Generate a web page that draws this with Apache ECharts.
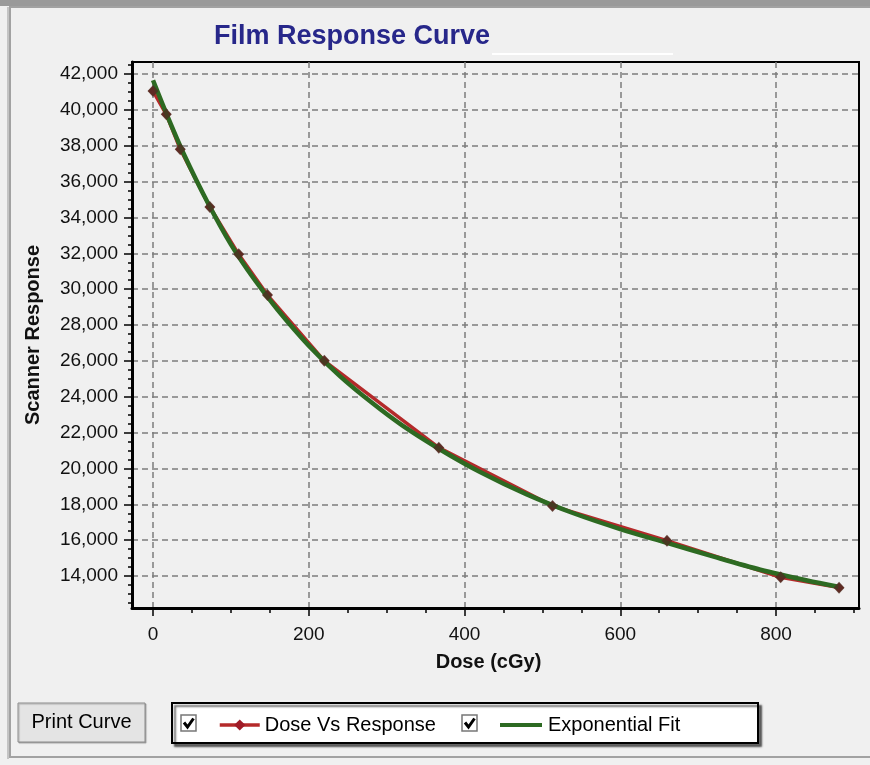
<!DOCTYPE html>
<html>
<head>
<meta charset="utf-8">
<script src="https://cdn.jsdelivr.net/npm/echarts@6/dist/echarts.min.js"></script>
<style>
  html, body { margin: 0; padding: 0; background: #f0f0f0; }
  #chart { width: 870px; height: 765px; }
</style>
</head>
<body>
<div id="chart"></div>
<script>
// measured dose / scanner response points
const doseValues = [0, 17, 35, 73, 110, 147, 220, 367, 513, 660, 806, 881];
const responseValues = [41050, 39750, 37800, 34580, 31940, 29670, 26000, 21160, 17910, 15970, 13930, 13350];

// exponential fit curve
const fitDose = [0, 20, 40, 70, 100, 130, 160, 200, 240, 280, 320, 367, 420, 480, 540, 600, 660, 720, 780, 840, 880];
const fitResponse = [41650, 39500, 37500, 34850, 32500, 30550, 28850, 26850, 25150, 23700, 22400, 21100, 19800, 18550, 17500, 16620, 15850, 15080, 14350, 13750, 13400];

const titleText = "Film Response Curve";
const seriesNames = ["Dose Vs Response", "Exponential Fit"];

const FONT = "'Liberation Sans', Arial, sans-serif";
const fmt = (v) => Number(v).toLocaleString("en-US");

const chart = echarts.init(document.getElementById("chart"));

const hidden = { show: false };
const dash = { color: "#7c7c7c", width: 1.5, type: [6, 4] };

// checkbox helper
function checkBox(x, y) {
  return [
    { type: "rect", z: 6, shape: { x: x, y: y, width: 15, height: 16 }, style: { fill: "#fff", stroke: "#777", lineWidth: 1.5 } },
    { type: "polyline", z: 7, shape: { points: [[x + 3, y + 7.5], [x + 6.5, y + 12], [x + 12.5, y + 3.5]] }, style: { stroke: "#000", lineWidth: 3, fill: null } },
  ];
}

chart.setOption({
  backgroundColor: "#f0f0f0",
  animation: false,
  textStyle: { fontFamily: FONT },
  title: {
    text: titleText,
    left: 209,
    top: 18,
    textStyle: { fontSize: 27, fontWeight: "bold", color: "#27278a", fontFamily: FONT },
  },
  legend: [
    {
      data: [seriesNames[0]],
      left: 213,
      top: 710,
      selectedMode: false,
      itemWidth: 40,
      itemHeight: 14,
      lineStyle: { width: 3.5 },
      textStyle: { fontSize: 20, color: "#000", fontFamily: FONT },
    },
    {
      data: [{ name: seriesNames[1], icon: "rect" }],
      left: 495,
      top: 710,
      selectedMode: false,
      itemWidth: 42,
      itemHeight: 4,
      textStyle: { fontSize: 20, color: "#000", fontFamily: FONT, padding: [0, 0, 0, 1] },
    },
  ],
  grid: [
    // plot frame + data
    { left: 132, right: 11, top: 62, bottom: 157, show: true, borderColor: "#000", borderWidth: 2, backgroundColor: "transparent" },
    // x major (0..800)
    { left: 153, right: 94, top: 62, bottom: 157 },
    // x minor (0..900)
    { left: 153, right: 16.1, top: 62, bottom: 157 },
    // y major (14000..42000)
    { left: 132, right: 11, top: 74, bottom: 189 },
    // y minor (12500..42500)
    { left: 132, right: 11, top: 65.04, bottom: 162.1 },
  ],
  xAxis: [
    {
      gridIndex: 0, type: "value", min: -27, max: 906.6,
      axisLine: { show: true, onZero: false, lineStyle: { color: "#000", width: 3 } },
      axisTick: hidden, axisLabel: hidden, splitLine: hidden,
      name: "Dose (cGy)", nameLocation: "middle", nameGap: 44,
      nameTextStyle: { fontSize: 20, fontWeight: "bold", color: "#111", fontFamily: FONT, padding: [0, 14, 0, 0] },
    },
    {
      gridIndex: 1, type: "value", min: 0, max: 800, interval: 200,
      axisLine: hidden,
      axisTick: { show: true, length: 8, lineStyle: { color: "#000", width: 1.5 } },
      axisLabel: { show: true, margin: 17, fontSize: 19, color: "#111", fontFamily: FONT },
      splitLine: { show: true, lineStyle: dash },
    },
    {
      gridIndex: 2, type: "value", min: 0, max: 900, interval: 50,
      axisLine: hidden,
      axisTick: { show: true, length: 5, lineStyle: { color: "#000", width: 1.5 } },
      axisLabel: hidden, splitLine: hidden,
    },
    { gridIndex: 3, type: "value", show: false },
    { gridIndex: 4, type: "value", show: false },
  ],
  yAxis: [
    {
      gridIndex: 0, type: "value", min: 12215, max: 42669,
      axisLine: { show: true, onZero: false, lineStyle: { color: "#000", width: 3 } },
      axisTick: hidden, axisLabel: hidden, splitLine: hidden,
      name: "Scanner Response", nameLocation: "middle", nameRotate: 90, nameGap: 89,
      nameTextStyle: { fontSize: 20, fontWeight: "bold", color: "#111", fontFamily: FONT },
    },
    { gridIndex: 1, type: "value", show: false },
    { gridIndex: 2, type: "value", show: false },
    {
      gridIndex: 3, type: "value", min: 14000, max: 42000, interval: 2000,
      axisLine: hidden,
      axisTick: { show: true, length: 8, lineStyle: { color: "#000", width: 1.5 } },
      axisLabel: { show: true, margin: 14, fontSize: 19, color: "#111", fontFamily: FONT, formatter: fmt },
      splitLine: { show: true, lineStyle: dash },
    },
    {
      gridIndex: 4, type: "value", min: 12500, max: 42500, interval: 500,
      axisLine: hidden,
      axisTick: { show: true, length: 4, lineStyle: { color: "#000", width: 1.5 } },
      axisLabel: hidden, splitLine: hidden,
    },
  ],
  series: [
    {
      name: seriesNames[0],
      type: "line",
      xAxisIndex: 0, yAxisIndex: 0,
      z: 2,
      data: doseValues.map((d, i) => [d, responseValues[i]]),
      symbol: "diamond",
      symbolSize: 10,
      showSymbol: true,
      itemStyle: { color: "#a01c28" },
      lineStyle: { color: "#b42a2a", width: 3.5 },
    },
    {
      name: seriesNames[1],
      type: "line",
      xAxisIndex: 0, yAxisIndex: 0,
      z: 3,
      smooth: 0.3,
      data: fitDose.map((d, i) => [d, fitResponse[i]]),
      symbol: "none",
      itemStyle: { color: "#2d6a22" },
      lineStyle: { color: "#2d6a22", width: 4.5 },
    },
    {
      name: "markers",
      type: "scatter",
      xAxisIndex: 0, yAxisIndex: 0,
      z: 4,
      data: doseValues.map((d, i) => [d, responseValues[i]]),
      symbol: "diamond",
      symbolSize: [11, 12],
      itemStyle: { color: "#4e2e22" },
    },
  ],
  graphic: [
    // window frame
    { type: "rect", z: 1, shape: { x: 0, y: 0, width: 870, height: 6 }, style: { fill: "#9a9a9a" } },
    { type: "rect", z: 1, shape: { x: 10, y: 7, width: 880, height: 750 }, style: { fill: null, stroke: "#a2a2a2", lineWidth: 2 } },
    { type: "rect", z: 1, shape: { x: 7, y: 7, width: 2, height: 752 }, style: { fill: "#c4c4c4" } },
    // white stroke under title
    { type: "rect", z: 1, shape: { x: 492, y: 53, width: 181, height: 2 }, style: { fill: "#ffffff" } },
    // print button
    { type: "rect", z: 3, shape: { x: 18, y: 703, width: 127, height: 39 },
      style: { fill: "#e4e4e4", stroke: "#8c8c8c", lineWidth: 1, shadowColor: "rgba(0,0,0,0.25)", shadowOffsetX: 1, shadowOffsetY: 1, shadowBlur: 1 } },
    { type: "text", z: 4, x: 81.5, y: 722.5,
      style: { text: "Print Curve", font: "20px " + FONT, fill: "#000", textAlign: "center", textVerticalAlign: "middle" } },
    // legend box
    { type: "rect", z: 3, shape: { x: 172, y: 703, width: 586, height: 40 },
      style: { fill: "#ffffff", stroke: "#000", lineWidth: 2, shadowColor: "rgba(0,0,0,0.55)", shadowOffsetX: 3, shadowOffsetY: 3, shadowBlur: 2 } },
    ...checkBox(181, 715),
    ...checkBox(462, 715),
  ],
});
</script>
</body>
</html>
